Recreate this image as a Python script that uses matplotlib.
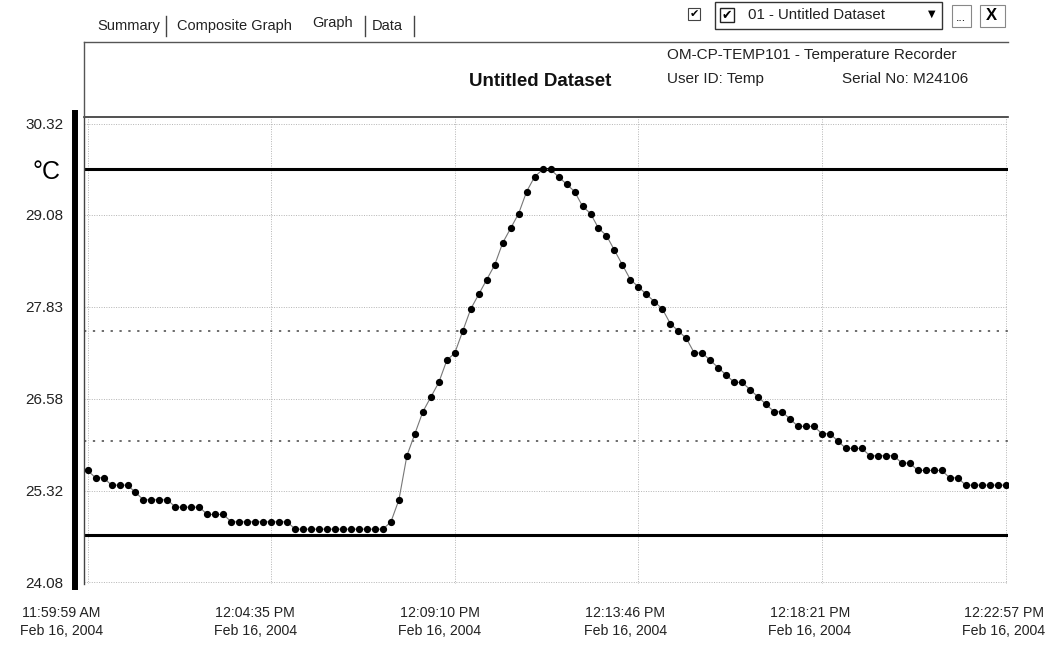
import matplotlib
matplotlib.use("Agg")
import matplotlib.pyplot as plt
import matplotlib.transforms as mtransforms
from matplotlib.lines import Line2D
from matplotlib.patches import Rectangle

plt.rcParams['font.family'] = ['Liberation Sans', 'DejaVu Sans']

# readings, one every ~12 s (116 samples)
temps = [25.6, 25.5, 25.5, 25.4, 25.4, 25.4, 25.3, 25.2, 25.2, 25.2,
         25.2, 25.1, 25.1, 25.1, 25.1, 25.0, 25.0, 25.0, 24.9, 24.9,
         24.9, 24.9, 24.9, 24.9, 24.9, 24.9, 24.8, 24.8, 24.8, 24.8,
         24.8, 24.8, 24.8, 24.8, 24.8, 24.8, 24.8, 24.8, 24.9, 25.2,
         25.8, 26.1, 26.4, 26.6, 26.8, 27.1, 27.2, 27.5, 27.8, 28.0,
         28.2, 28.4, 28.7, 28.9, 29.1, 29.4, 29.6, 29.7, 29.7, 29.6,
         29.5, 29.4, 29.2, 29.1, 28.9, 28.8, 28.6, 28.4, 28.2, 28.1,
         28.0, 27.9, 27.8, 27.6, 27.5, 27.4, 27.2, 27.2, 27.1, 27.0,
         26.9, 26.8, 26.8, 26.7, 26.6, 26.5, 26.4, 26.4, 26.3, 26.2,
         26.2, 26.2, 26.1, 26.1, 26.0, 25.9, 25.9, 25.9, 25.8, 25.8,
         25.8, 25.8, 25.7, 25.7, 25.6, 25.6, 25.6, 25.6, 25.5, 25.5,
         25.4, 25.4, 25.4, 25.4, 25.4, 25.4]
samples = list(range(len(temps)))

y_ticks = [24.08, 25.32, 26.58, 27.83, 29.08, 30.32]
x_tick_pos = [0, 23, 46, 69, 92, 115]
x_tick_labels = ['11:59:59 AM\nFeb 16, 2004', '12:04:35 PM\nFeb 16, 2004',
                 '12:09:10 PM\nFeb 16, 2004', '12:13:46 PM\nFeb 16, 2004',
                 '12:18:21 PM\nFeb 16, 2004', '12:22:57 PM\nFeb 16, 2004']

high_alarm = 29.7
low_alarm = 24.72
high_warn = 27.5
low_warn = 26.0

W, H = 1055, 650


def fx(x):
    return x / W


def fy(y):
    return 1 - y / H


fig = plt.figure(figsize=(W / 100, H / 100), dpi=100)
fig.patch.set_facecolor('white')

ax = fig.add_axes([fx(84), fy(584), (1008 - 84) / W, (584 - 117) / H])
ax.set_xlim(-0.45, 115.3)
ax.set_ylim(24.053, 30.415)

# grid
for yv in y_ticks:
    ax.axhline(yv, color='#b4b4b4', lw=0.7, ls=(0, (1, 1.5)), zorder=1)
for xv in x_tick_pos:
    ax.axvline(xv, color='#b4b4b4', lw=0.7, ls=(0, (1, 1.5)), zorder=1)

# alarm / warning limits
ax.axhline(high_alarm, color='black', lw=2.2, zorder=2)
ax.axhline(low_alarm, color='black', lw=2.2, zorder=2)
ax.axhline(high_warn, color='#444444', lw=1.1, ls=(0, (1.5, 4.3)), zorder=2)
ax.axhline(low_warn, color='#444444', lw=1.1, ls=(0, (1.5, 4.3)), zorder=2)

ax.plot(samples, temps, color='#777777', lw=0.8, marker='o', ms=4.2,
        mfc='black', mec='black', zorder=3)

ax.set_yticks(y_ticks)
ax.set_yticklabels(['%.2f' % v for v in y_ticks])
ax.set_xticks(x_tick_pos)
ax.set_xticklabels(x_tick_labels, linespacing=1.3)
ax.tick_params(axis='y', length=0, pad=15, labelsize=11, colors='#222222')
ax.tick_params(axis='x', length=0, pad=16, labelsize=10.2, colors='#222222')

shifts = [-26, -16, -15, -13, -12, -2]
for lbl, dx in zip(ax.get_xticklabels(), shifts):
    off = mtransforms.ScaledTranslation(dx / 100, 0, fig.dpi_scale_trans)
    lbl.set_transform(lbl.get_transform() + off)

for s in ['right', 'bottom']:
    ax.spines[s].set_visible(False)
ax.spines['left'].set_color('#444444')
ax.spines['left'].set_linewidth(1.0)
ax.spines['top'].set_color('#333333')
ax.spines['top'].set_linewidth(1.2)

# thick bar left of the axis
fig.add_artist(Line2D([fx(75), fx(75)], [fy(113), fy(587)], color='black', lw=4.3))

fig.text(fx(46), fy(172), '°C', fontsize=18, ha='center', va='center')

# header box
fig.add_artist(Line2D([fx(84), fx(1008)], [fy(42), fy(42)], color='#555555', lw=1.0))
fig.add_artist(Line2D([fx(84), fx(84)], [fy(42), fy(117)], color='#555555', lw=1.0))

# tabs
fig.text(fx(97), fy(26), 'Summary', fontsize=10.5, va='center', color='#222222')
fig.text(fx(177), fy(26), 'Composite Graph', fontsize=10.5, va='center', color='#222222')
fig.text(fx(312), fy(23), 'Graph', fontsize=10.5, va='center', color='#222222')
fig.text(fx(372), fy(26), 'Data', fontsize=10.5, va='center', color='#222222')
for xs in [166, 365, 414]:
    fig.add_artist(Line2D([fx(xs), fx(xs)], [fy(16), fy(36)], color='#444444', lw=1.0))

fig.text(fx(540), fy(81), 'Untitled Dataset', fontsize=13.5, fontweight='bold',
         ha='center', va='center', color='#111111')
fig.text(fx(667), fy(55), 'OM-CP-TEMP101 - Temperature Recorder', fontsize=11,
         va='center', color='#222222')
fig.text(fx(667), fy(79), 'User ID: Temp', fontsize=11, va='center', color='#222222')
fig.text(fx(842), fy(79), 'Serial No: M24106', fontsize=11, va='center', color='#222222')

# dataset selector controls
fig.add_artist(Rectangle((fx(688), fy(20)), 12 / W, 12 / H, fill=False, ec='#444444', lw=0.8))
fig.text(fx(694), fy(14), '✔', fontsize=8, ha='center', va='center',
         family=['DejaVu Sans'])
fig.add_artist(Rectangle((fx(715), fy(29)), (942 - 715) / W, 27 / H, fill=False,
                         ec='#333333', lw=1.0))
fig.add_artist(Rectangle((fx(720), fy(22)), 14 / W, 14 / H, fill=False, ec='#222222', lw=1.0))
fig.text(fx(727), fy(15), '✔', fontsize=9, ha='center', va='center',
         family=['DejaVu Sans'])
fig.text(fx(748), fy(15), '01 - Untitled Dataset', fontsize=10.8, va='center',
         color='#222222')
fig.text(fx(932), fy(14), '▼', fontsize=7, ha='center', va='center',
         family=['DejaVu Sans'])
fig.add_artist(Rectangle((fx(952), fy(27)), 19 / W, 22 / H, fill=False, ec='#888888', lw=0.8))
fig.text(fx(961), fy(18), '...', fontsize=9, ha='center', va='center')
fig.add_artist(Rectangle((fx(980), fy(27)), 25 / W, 22 / H, fill=False, ec='#888888', lw=0.8))
fig.text(fx(991), fy(16), 'X', fontsize=12, fontweight='bold', ha='center', va='center')

fig.savefig('out.png', dpi=100, facecolor='white')
